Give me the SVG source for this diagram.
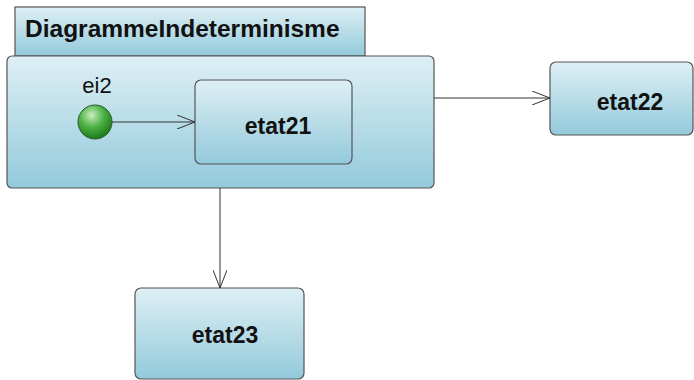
<svg xmlns="http://www.w3.org/2000/svg" width="694" height="380" viewBox="0 0 694 380">
<defs>
<linearGradient id="g" x1="0" y1="0" x2="0" y2="1">
<stop offset="0" stop-color="#deeff5"/>
<stop offset="1" stop-color="#93cadb"/>
</linearGradient>
<radialGradient id="gc" cx="0.4" cy="0.3" r="0.7">
<stop offset="0" stop-color="#c8efc0"/>
<stop offset="0.5" stop-color="#4fb246"/>
<stop offset="1" stop-color="#1c7a1a"/>
</radialGradient>
<marker id="a" markerWidth="20" markerHeight="14" refX="18" refY="7" orient="auto" markerUnits="userSpaceOnUse">
<path d="M0,0 L18,7 L0,14" fill="none" stroke="#333" stroke-width="1"/>
</marker>
<style>
.box{fill:url(#g);stroke:#555;stroke-width:1.2}
.t{font-family:"Liberation Sans",Arial,sans-serif;font-weight:bold;fill:#111;text-anchor:middle}
.c{stroke:#333;stroke-width:1;fill:none;marker-end:url(#a)}
</style>
</defs>
<g id="DiagrammeIndeterminisme">
<rect class="box" x="15" y="7" width="350" height="49"/>
<text class="t" x="25" y="37" font-size="24.5" style="text-anchor:start">DiagrammeIndeterminisme</text>
<rect class="box" x="7" y="56" width="427" height="132" rx="5"/>
</g>
<g id="ei2">
<text x="97" y="93" font-family="Liberation Sans,Arial,sans-serif" font-size="22" fill="#111" text-anchor="middle">ei2</text>
<circle cx="95" cy="122" r="17" fill="url(#gc)" stroke="#2a5a2a" stroke-width="1"/>
</g>
<g id="etat21">
<rect class="box" x="195" y="80" width="157" height="84" rx="6"/>
<text class="t" x="278" y="134" font-size="23">etat21</text>
</g>
<g id="etat22">
<rect class="box" x="550" y="62" width="143" height="73" rx="6"/>
<text class="t" x="630" y="110" font-size="23">etat22</text>
</g>
<g id="etat23">
<rect class="box" x="135" y="288" width="169" height="91" rx="6"/>
<text class="t" x="225" y="343" font-size="23">etat23</text>
</g>
<g id="connectors">
<line class="c" x1="112" y1="122" x2="195" y2="122"/>
<line class="c" x1="434" y1="98" x2="550" y2="98"/>
<line class="c" x1="220" y1="188" x2="220" y2="288"/>
</g>
</svg>
